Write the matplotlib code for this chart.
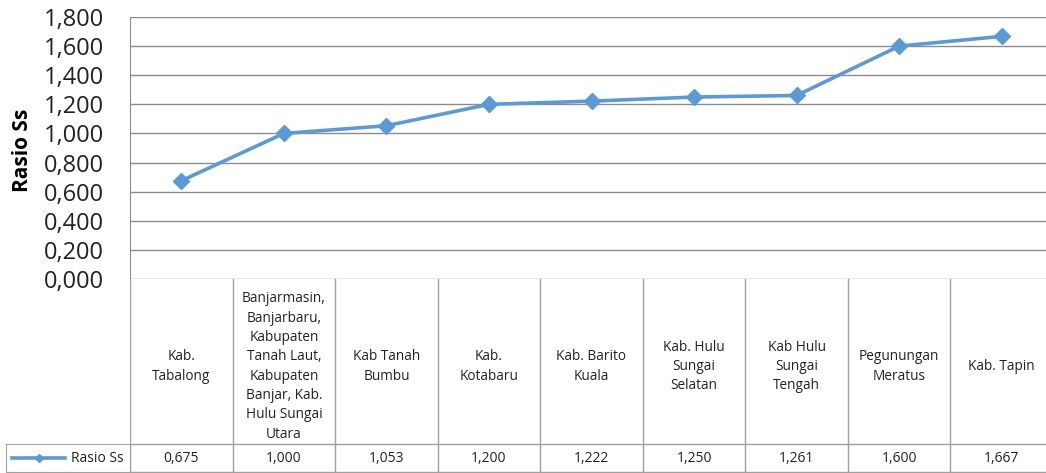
import matplotlib.pyplot as plt

categories = [
    "Kab.\nTabalong",
    "Banjarmasin,\nBanjarbaru,\nKabupaten\nTanah Laut,\nKabupaten\nBanjar, Kab.\nHulu Sungai\nUtara",
    "Kab Tanah\nBumbu",
    "Kab.\nKotabaru",
    "Kab. Barito\nKuala",
    "Kab. Hulu\nSungai\nSelatan",
    "Kab Hulu\nSungai\nTengah",
    "Pegunungan\nMeratus",
    "Kab. Tapin",
]
rasio_ss = [0.675, 1.000, 1.053, 1.200, 1.222, 1.250, 1.261, 1.600, 1.667]
series_name = "Rasio Ss"
y_ticks = [0.0, 0.2, 0.4, 0.6, 0.8, 1.0, 1.2, 1.4, 1.6, 1.8]

plt.rcParams['font.family'] = ['Open Sans', 'DejaVu Sans']

W, H = 1046, 473
line_col = '#5B9BD5'
grid_col = '#8c8c8c'
tab_col = '#a0a0a0'

def fmt(v):
    return f"{v:.3f}".replace(".", ",")

fig = plt.figure(figsize=(W / 100, H / 100), dpi=100)

# plot area (last column runs past the right edge, like the original)
left, right, top, zero = 130, 1053, 17, 279
ax = fig.add_axes([left / W, 1 - zero / H, (right - left) / W, (zero - top) / H])
x = list(range(len(rasio_ss)))
ax.plot(x, rasio_ss, color=line_col, lw=2.6, marker='D', ms=8, clip_on=False, zorder=3)
ax.set_xlim(-0.5, len(x) - 0.5)
ax.set_ylim(0, 1.8)
ax.set_yticks(y_ticks)
ax.set_yticklabels([fmt(t) for t in y_ticks], fontsize=17)
ax.set_xticks([])
ax.tick_params(axis='y', length=0, pad=19, colors='#222222')
ax.yaxis.grid(True, color=grid_col, lw=1)
for s in ['top', 'right', 'bottom']:
    ax.spines[s].set_visible(False)
ax.spines['left'].set_color(grid_col)
fig.text(22 / W, 1 - 150 / H, "Rasio Ss", rotation=90, ha='center', va='center',
         fontsize=15, fontweight='bold')

# data table under the plot
tab_h = H - zero
row_y = H - 444
tab = fig.add_axes([left / W, 0, (right - left) / W, tab_h / H])
tab.set_xlim(-0.5, len(x) - 0.5)
tab.set_ylim(0, tab_h)
tab.axis('off')
for i in range(len(x) + 1):
    tab.plot([i - 0.5, i - 0.5], [1, tab_h], color=tab_col, lw=1)
tab.plot([-0.5, len(x) - 0.5], [row_y, row_y], color=tab_col, lw=1)
tab.plot([-0.5, len(x) - 0.5], [1, 1], color=tab_col, lw=1)
for i, (c, v) in enumerate(zip(categories, rasio_ss)):
    tab.text(i, (row_y + tab_h) / 2 - 5, c, ha='center', va='center', fontsize=9.8,
             linespacing=1.4, color='#222222')
    tab.text(i, row_y / 2, fmt(v), ha='center', va='center', fontsize=10, color='#222222')

# legend key cell
lg = fig.add_axes([6 / W, 1 / H, 124 / W, (row_y - 1) / H])
lg.set_xlim(0, 124)
lg.set_ylim(0, 1)
lg.set_xticks([])
lg.set_yticks([])
for s in lg.spines.values():
    s.set_color(tab_col)
lg.plot([6, 59], [0.5, 0.5], color=line_col, lw=2.6)
lg.plot([32.5], [0.5], color=line_col, marker='D', ms=4)
lg.text(118, 0.5, series_name, ha='right', va='center', fontsize=10, color='#222222')

fig.savefig('out.png', dpi=100)
